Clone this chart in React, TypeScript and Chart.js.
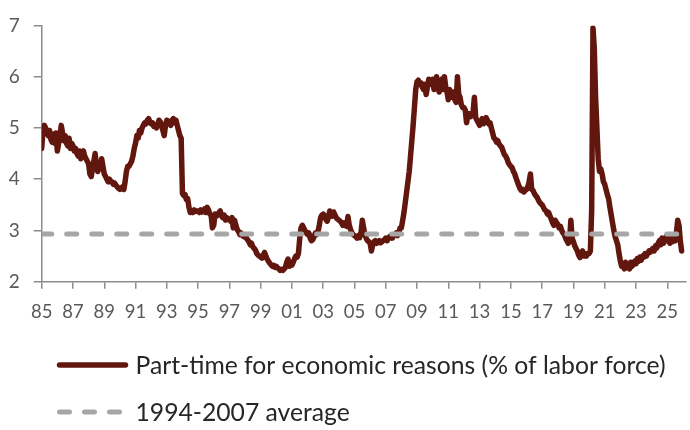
import { useEffect, useRef } from "react";
import { Chart, registerables } from "chart.js";

Chart.register(...registerables);

// Monthly series, January 1985 onward (one row per year)
const START_YEAR = 1985;
const partTimeShare: number[] = [
  4.60, 4.95, 5.05, 5.00, 4.92, 4.85, 4.95, 4.78, 4.72, 4.88, 4.70, 4.90, // 1985
  4.55, 4.70, 4.85, 5.05, 4.90, 4.75, 4.85, 4.70, 4.65, 4.80, 4.60, 4.70, // 1986
  4.65, 4.55, 4.60, 4.50, 4.45, 4.55, 4.40, 4.50, 4.55, 4.45, 4.40, 4.35, // 1987
  4.30, 4.10, 4.05, 4.20, 4.35, 4.50, 4.25, 4.15, 4.30, 4.20, 4.40, 4.25, // 1988
  4.10, 4.05, 4.00, 3.95, 4.00, 3.95, 3.95, 3.90, 3.92, 3.88, 3.85, 3.82, // 1989
  3.80, 3.82, 3.85, 3.80, 3.95, 4.15, 4.25, 4.25, 4.30, 4.35, 4.45, 4.60, // 1990
  4.70, 4.85, 4.80, 4.95, 4.90, 5.00, 5.05, 5.10, 5.08, 5.15, 5.18, 5.12, // 1991
  5.08, 5.10, 5.03, 5.06, 5.00, 5.05, 5.15, 5.12, 5.05, 4.95, 4.85, 5.05, // 1992
  5.15, 5.10, 5.12, 5.05, 5.15, 5.18, 5.10, 5.15, 5.05, 4.95, 4.85, 4.80, // 1993
  3.72, 3.68, 3.70, 3.60, 3.62, 3.45, 3.35, 3.38, 3.35, 3.40, 3.37, 3.38, // 1994
  3.38, 3.35, 3.40, 3.36, 3.38, 3.42, 3.35, 3.45, 3.40, 3.32, 3.30, 3.05, // 1995
  3.10, 3.32, 3.28, 3.30, 3.35, 3.38, 3.28, 3.25, 3.30, 3.20, 3.25, 3.22, // 1996
  3.22, 3.18, 3.25, 3.05, 3.20, 3.10, 3.02, 2.98, 2.92, 2.95, 2.90, 2.88, // 1997
  2.90, 2.85, 2.82, 2.78, 2.72, 2.75, 2.68, 2.65, 2.62, 2.55, 2.52, 2.50, // 1998
  2.48, 2.46, 2.52, 2.57, 2.50, 2.44, 2.40, 2.36, 2.33, 2.30, 2.32, 2.28, // 1999
  2.30, 2.27, 2.25, 2.22, 2.24, 2.22, 2.25, 2.28, 2.38, 2.44, 2.30, 2.32, // 2000
  2.32, 2.38, 2.45, 2.50, 2.48, 2.55, 2.85, 3.05, 3.10, 3.05, 3.00, 2.95, // 2001
  2.92, 2.95, 2.85, 2.80, 2.82, 2.88, 2.95, 2.92, 2.98, 3.10, 3.25, 3.30, // 2002
  3.32, 3.28, 3.22, 3.18, 3.25, 3.38, 3.35, 3.28, 3.36, 3.30, 3.25, 3.22, // 2003
  3.20, 3.18, 3.15, 3.10, 3.15, 3.10, 3.08, 3.27, 3.10, 3.02, 2.95, 2.92, // 2004
  2.90, 2.88, 2.85, 2.90, 2.86, 2.95, 3.20, 3.05, 2.92, 2.85, 2.80, 2.78, // 2005
  2.75, 2.60, 2.72, 2.78, 2.80, 2.75, 2.78, 2.80, 2.76, 2.78, 2.80, 2.82, // 2006
  2.85, 2.80, 2.85, 2.88, 2.90, 2.85, 2.90, 2.92, 2.95, 2.90, 2.95, 3.05, // 2007
  3.05, 3.20, 3.35, 3.55, 3.75, 3.95, 4.15, 4.45, 4.75, 5.05, 5.40, 5.75, // 2008
  5.90, 5.93, 5.85, 5.88, 5.80, 5.75, 5.85, 5.65, 5.80, 5.95, 5.90, 5.85, // 2009
  5.95, 5.75, 5.85, 6.00, 5.80, 5.70, 5.90, 5.95, 5.75, 6.00, 5.80, 5.70, // 2010
  5.55, 5.75, 5.65, 5.60, 5.70, 5.55, 5.50, 6.00, 5.65, 5.60, 5.45, 5.40, // 2011
  5.40, 5.35, 5.10, 5.25, 5.28, 5.22, 5.25, 5.30, 5.60, 5.20, 5.15, 5.10, // 2012
  5.05, 5.12, 5.18, 5.08, 5.12, 5.20, 5.15, 5.08, 5.10, 5.00, 4.90, 4.80, // 2013
  4.78, 4.72, 4.75, 4.68, 4.65, 4.62, 4.55, 4.48, 4.45, 4.40, 4.32, 4.28, // 2014
  4.25, 4.22, 4.15, 4.10, 4.02, 3.95, 3.88, 3.82, 3.78, 3.80, 3.75, 3.78, // 2015
  3.80, 3.85, 3.95, 4.10, 3.80, 3.78, 3.72, 3.68, 3.65, 3.60, 3.55, 3.52, // 2016
  3.50, 3.45, 3.40, 3.38, 3.32, 3.35, 3.28, 3.22, 3.15, 3.10, 3.20, 3.15, // 2017
  3.12, 3.05, 3.08, 3.00, 2.95, 2.92, 2.85, 2.80, 2.75, 2.78, 3.20, 2.85, // 2018
  2.78, 2.70, 2.65, 2.60, 2.52, 2.47, 2.55, 2.60, 2.50, 2.55, 2.50, 2.55, // 2019
  2.55, 2.60, 3.40, 6.95, 6.55, 5.60, 5.00, 4.40, 4.15, 4.20, 4.10, 3.95, // 2020
  3.90, 3.80, 3.70, 3.62, 3.45, 3.30, 3.15, 3.00, 2.88, 2.80, 2.72, 2.55, // 2021
  2.40, 2.30, 2.35, 2.25, 2.38, 2.28, 2.32, 2.25, 2.38, 2.30, 2.35, 2.40, // 2022
  2.35, 2.45, 2.40, 2.48, 2.42, 2.50, 2.48, 2.55, 2.50, 2.55, 2.60, 2.58, // 2023
  2.62, 2.65, 2.60, 2.70, 2.66, 2.75, 2.80, 2.72, 2.85, 2.75, 2.80, 2.88, // 2024
  2.80, 2.85, 2.75, 2.88, 2.78, 2.82, 2.80, 2.95, 3.20, 3.10, 2.80, 2.60, // 2025
];

// 1994-2007 mean level
const AVERAGE_1994_2007 = 2.93;

const xTickLabels = ["85", "87", "89", "91", "93", "95", "97", "99", "01", "03", "05", "07", "09", "11", "13", "15", "17", "19", "21", "23", "25"];
const yTickValues = [2, 3, 4, 5, 6, 7];

const seriesLabel = "Part-time for economic reasons (% of labor force)";
const averageLabel = "1994-2007 average";

const X_MIN = 1985;
const X_MAX = 2026.2;

const SERIES_COLOR = "#62170E";
const AVERAGE_COLOR = "#A6A6A6";
const AXIS_COLOR = "#8C8C8C";
const TICK_TEXT = "#595959";
const LEGEND_TEXT = "#262626";
const FONT = "Lato, 'Open Sans', sans-serif";

const labelToYear = (l: string) => {
  const v = Number(l);
  return v >= 50 ? 1900 + v : 2000 + v;
};

// Vertical list legend drawn below the plot
const rowLegend = {
  id: "rowLegend",
  afterDraw(chart: any, _args: any, opts: any) {
    const { ctx } = chart;
    ctx.save();
    chart.data.datasets.forEach((ds: any, i: number) => {
      const y = opts.top + i * opts.rowGap;
      ctx.beginPath();
      ctx.strokeStyle = ds.borderColor;
      ctx.lineWidth = ds.borderWidth;
      ctx.lineCap = "round";
      ctx.setLineDash(ds.borderDash || []);
      ctx.moveTo(opts.left, y);
      ctx.lineTo(opts.left + opts.sampleWidth, y);
      ctx.stroke();
      ctx.setLineDash([]);
      ctx.fillStyle = opts.color;
      ctx.font = `${opts.fontSize}px ${FONT}`;
      ctx.textBaseline = "middle";
      ctx.textAlign = "left";
      ctx.fillText(ds.label, opts.left + opts.sampleWidth + opts.gap, y + 1);
    });
    ctx.restore();
  },
};

export default function App() {
  const canvasRef = useRef<HTMLCanvasElement | null>(null);

  useEffect(() => {
    if (!canvasRef.current) return;
    const seriesPoints = partTimeShare.map((v, i) => ({ x: START_YEAR + i / 12, y: v }));
    const averagePoints = [
      { x: X_MIN, y: AVERAGE_1994_2007 },
      { x: X_MAX, y: AVERAGE_1994_2007 },
    ];

    const chart = new Chart(canvasRef.current, {
      type: "line",
      data: {
        datasets: [
          {
            label: seriesLabel,
            data: seriesPoints,
            borderColor: SERIES_COLOR,
            borderWidth: 5.5,
            pointRadius: 0,
            tension: 0,
            borderJoinStyle: "round",
            borderCapStyle: "round",
            order: 1,
          },
          {
            label: averageLabel,
            data: averagePoints,
            borderColor: AVERAGE_COLOR,
            borderWidth: 5,
            borderDash: [10, 15],
            borderCapStyle: "round",
            pointRadius: 0,
            order: 0,
          },
        ],
      },
      options: {
        responsive: false,
        animation: false,
        layout: { padding: { top: 15, right: 0, left: 0, bottom: 0 } },
        plugins: {
          legend: { display: false },
          tooltip: { enabled: false },
          rowLegend: {
            left: 59.5,
            top: 365,
            rowGap: 47,
            sampleWidth: 66,
            gap: 10,
            fontSize: 24.7,
            color: LEGEND_TEXT,
          },
        } as any,
        scales: {
          x: {
            type: "linear",
            min: X_MIN,
            max: X_MAX,
            afterBuildTicks: (scale: any) => {
              scale.ticks = xTickLabels.map((l) => ({ value: labelToYear(l) }));
            },
            afterFit: (scale: any) => {
              scale.height = 148.3;
            },
            ticks: {
              autoSkip: false,
              maxRotation: 0,
              padding: 12,
              color: TICK_TEXT,
              font: { family: FONT, size: 18.5 },
              callback: (value: any) => {
                const idx = xTickLabels.findIndex((l) => labelToYear(l) === value);
                return idx >= 0 ? xTickLabels[idx] : "";
              },
            },
            grid: {
              drawOnChartArea: false,
              drawTicks: true,
              tickLength: 7,
              color: AXIS_COLOR,
              lineWidth: 1.5,
            },
            border: { display: true, color: AXIS_COLOR, width: 1.5 },
          },
          y: {
            min: 2,
            max: 7,
            afterBuildTicks: (scale: any) => {
              scale.ticks = yTickValues.map((v) => ({ value: v }));
            },
            afterFit: (scale: any) => {
              scale.width = 41.7;
            },
            ticks: {
              padding: 14,
              color: TICK_TEXT,
              font: { family: FONT, size: 19 },
            },
            grid: {
              drawOnChartArea: false,
              drawTicks: true,
              tickLength: 8,
              color: AXIS_COLOR,
              lineWidth: 1.5,
            },
            border: { display: true, color: AXIS_COLOR, width: 1.5 },
          },
        },
      },
      plugins: [rowLegend],
    });

    return () => chart.destroy();
  }, []);

  return (
    <div style={{ position: "fixed", left: 0, top: 0, width: 690, height: 430, background: "#fff" }}>
      <canvas ref={canvasRef} width={690} height={430} style={{ display: "block" }} />
    </div>
  );
}
